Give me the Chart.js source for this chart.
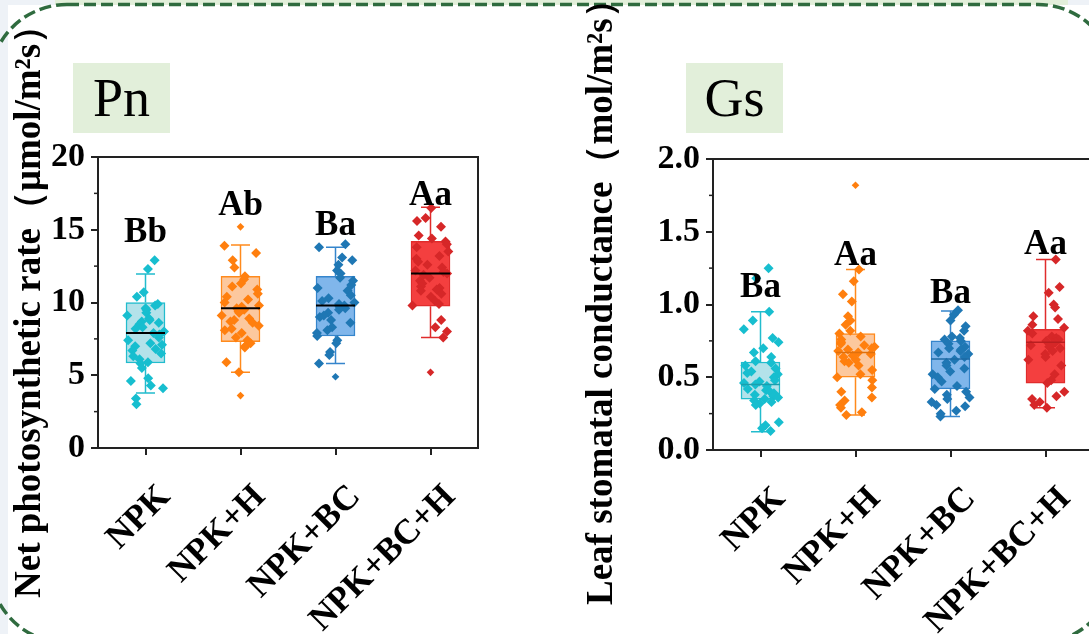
<!DOCTYPE html>
<html lang="en">
<head>
<meta charset="utf-8">
<title>Pn and Gs</title>
<script src="https://cdn.jsdelivr.net/npm/chart.js@4.4.1/dist/chart.umd.min.js"></script>
<style>
  html, body { margin: 0; padding: 0; }
  body { position: relative; width: 1089px; height: 634px; overflow: hidden; background: #eef2f7; }
  #band { position: absolute; left: 55px; top: 0; width: 1013px; height: 8px; background: #e2efda; }
  #card { position: absolute; left: 8px; top: 5px; width: 1081px; height: 629px; background: #fff; }
  #frame { position: absolute; left: 0; top: 0; }
  canvas { position: absolute; top: 0; }
  #pnChart { left: 0; }
  #gsChart { left: 545px; }
  .tag { position: absolute; top: 63px; width: 97px; height: 70px; background: #e2efda;
         font: 54px "Liberation Serif", "Times New Roman", serif; line-height: 70px;
         text-align: center; color: #000; }
</style>
</head>
<body>
<div id="band"></div>
<div id="card"></div>
<svg id="frame" width="1089" height="634">
  <rect x="-10" y="4.5" width="1125" height="638.5" rx="77" ry="77" fill="none"
        stroke="#2f6b3f" stroke-width="3.5" stroke-dasharray="12 5"/>
</svg>
<canvas id="pnChart" width="545" height="634"></canvas>
<canvas id="gsChart" width="600" height="634"></canvas>
<div class="tag" style="left:73px">Pn</div>
<div class="tag" style="left:686px">Gs</div>

<script>
const categories = ['NPK', 'NPK+H', 'NPK+BC', 'NPK+BC+H'];

// Pn (net photosynthetic rate), one array per treatment
const pnNPK = [12.9, 12.3, 10.7, 10.4, 9.9, 9.8, 9.6, 9.5, 9.3, 9.1, 8.9, 8.8, 8.7, 8.6, 8.5, 8.3, 8.2, 8.0, 7.9, 7.8,
               7.6, 7.4, 7.2, 7.1, 7.0, 6.8, 6.7, 6.5, 6.3, 6.1, 5.9, 5.8, 5.5, 4.8, 4.6, 4.3, 4.1, 3.4, 3.0];
const pnH   = [13.9, 13.4, 12.9, 12.4, 11.8, 11.6, 11.3, 11.1, 10.9, 10.6, 10.4, 10.2, 10.0, 9.8, 9.7, 9.6, 9.5, 9.4,
               9.3, 9.1, 8.9, 8.8, 8.7, 8.6, 8.4, 8.2, 8.1, 7.9, 7.6, 7.4, 7.2, 7.0, 6.9, 5.9, 5.2];
const pnBC  = [14.0, 13.8, 13.1, 12.9, 12.6, 12.2, 12.0, 11.7, 11.5, 11.2, 11.0, 10.8, 10.5, 10.3, 10.1, 10.0, 9.9,
               9.8, 9.7, 9.6, 9.5, 9.3, 9.1, 9.0, 8.8, 8.6, 8.3, 8.1, 7.9, 7.7, 7.4, 7.2, 6.6, 6.4, 5.8];
const pnBCH = [16.5, 15.8, 15.6, 15.2, 14.6, 14.4, 14.2, 14.0, 13.8, 13.5, 13.2, 13.0, 12.8, 12.6, 12.4, 12.2, 12.1,
               12.0, 11.9, 11.7, 11.5, 11.3, 11.1, 11.0, 10.9, 10.8, 10.6, 10.4, 10.1, 9.9, 9.8, 8.8, 8.3, 8.0, 7.6];
const pnOutliers = [[], [15.2, 3.6], [4.9], [5.2]];
const pnQ1 = [5.84, 7.3, 7.7, 9.75];
const pnMedian = [7.9, 9.6, 9.8, 12.0];
const pnQ3 = [10.0, 11.8, 11.8, 14.2];
const pnLow = [3.78, 5.2, 5.8, 7.6];
const pnHigh = [11.96, 13.95, 13.8, 16.55];
const pnLetters = ['Bb', 'Ab', 'Ba', 'Aa'];
const pnLetterY = [14.16, 16.0, 14.64, 16.7];
const pnTicks = [0, 5, 10, 15, 20];

// Gs (leaf stomatal conductance)
const gsNPK = [1.25, 1.18, 0.95, 0.89, 0.83, 0.77, 0.74, 0.70, 0.67, 0.64, 0.61, 0.60, 0.58, 0.56, 0.54, 0.53, 0.52,
               0.50, 0.48, 0.47, 0.46, 0.45, 0.44, 0.42, 0.41, 0.40, 0.39, 0.38, 0.37, 0.36, 0.35, 0.34, 0.33, 0.32,
               0.31, 0.19, 0.17, 0.15, 0.13];
const gsH   = [1.24, 1.16, 1.07, 1.02, 0.92, 0.89, 0.86, 0.82, 0.80, 0.78, 0.76, 0.74, 0.73, 0.72, 0.71, 0.70, 0.69,
               0.68, 0.67, 0.66, 0.65, 0.64, 0.62, 0.61, 0.60, 0.58, 0.55, 0.52, 0.50, 0.48, 0.43, 0.40, 0.36, 0.34,
               0.31, 0.29, 0.26, 0.24];
const gsBC  = [0.96, 0.93, 0.89, 0.85, 0.82, 0.78, 0.77, 0.76, 0.75, 0.73, 0.71, 0.70, 0.69, 0.68, 0.67, 0.66, 0.64,
               0.62, 0.60, 0.58, 0.56, 0.54, 0.52, 0.50, 0.47, 0.44, 0.42, 0.40, 0.38, 0.36, 0.35, 0.33, 0.31, 0.30,
               0.27, 0.25, 0.23];
const gsBCH = [1.31, 1.12, 1.08, 1.00, 0.98, 0.92, 0.90, 0.86, 0.84, 0.82, 0.80, 0.78, 0.77, 0.76, 0.75, 0.74, 0.73,
               0.72, 0.71, 0.70, 0.68, 0.66, 0.64, 0.62, 0.58, 0.52, 0.48, 0.46, 0.40, 0.37, 0.35, 0.33, 0.31, 0.29];
const gsOutliers = [[], [1.82], [], []];
const gsQ1 = [0.35, 0.50, 0.42, 0.46];
const gsMedian = [0.45, 0.67, 0.625, 0.74];
const gsQ3 = [0.605, 0.80, 0.75, 0.83];
const gsLow = [0.125, 0.24, 0.23, 0.29];
const gsHigh = [0.95, 1.24, 0.955, 1.31];
const gsLetters = ['Ba', 'Aa', 'Ba', 'Aa'];
const gsLetterY = [1.05, 1.27, 1.01, 1.35];
const gsTicks = [0, 0.5, 1.0, 1.5, 2.0];

const pointColors = ['#17becf', '#ff7f0e', '#1f77b4', '#d62728'];
const boxFills = ['#b3e2ea', '#fcc89e', '#80b6eb', '#f43f3f'];
const boxLines = ['#22bccd', '#ff8a1c', '#3585cc', '#e02c2c'];
const medianDark = ['#1a9fae', '#e0700c', '#1d6aa5', '#b81f20'];

const serif = '"Liberation Serif", "Times New Roman", serif';

// horizontal scatter of the points inside a category (position only)
function jitter(k) {
    const s = Math.sin(k * 12.9898 + 78.233) * 43758.5453;
    return (s - Math.floor(s) - 0.5) * 0.4;
}

function extrasPlugin(p) {
    return {
        id: 'boxExtras',
        beforeDatasetsDraw: function(chart) {
            const ctx = chart.ctx, xs = chart.scales.x, ys = chart.scales.y;
            ctx.save();
            ctx.lineWidth = 1.5;
            categories.forEach(function(c, i) {
                const x = xs.getPixelForValue(i);
                const yHi = ys.getPixelForValue(p.high[i]);
                const yLo = ys.getPixelForValue(p.low[i]);
                ctx.strokeStyle = boxLines[i];
                ctx.beginPath();
                ctx.moveTo(x, ys.getPixelForValue(p.q3[i])); ctx.lineTo(x, yHi);
                ctx.moveTo(x, ys.getPixelForValue(p.q1[i])); ctx.lineTo(x, yLo);
                ctx.moveTo(x - 9.5, yHi); ctx.lineTo(x + 9.5, yHi);
                ctx.moveTo(x - 9.5, yLo); ctx.lineTo(x + 9.5, yLo);
                ctx.stroke();
            });
            ctx.restore();
        },
        afterDatasetsDraw: function(chart) {
            const ctx = chart.ctx, xs = chart.scales.x, ys = chart.scales.y;
            const area = chart.chartArea;
            ctx.save();

            // medians
            categories.forEach(function(c, i) {
                const x = xs.getPixelForValue(i);
                const y = ys.getPixelForValue(p.median[i]);
                ctx.strokeStyle = p.blackMedian ? '#000' : medianDark[i];
                ctx.lineWidth = p.blackMedian ? 2 : 1.5;
                ctx.beginPath();
                ctx.moveTo(x - 19.5, y); ctx.lineTo(x + 19.5, y);
                ctx.stroke();
            });

            // closing frame
            ctx.strokeStyle = '#222';
            ctx.lineWidth = 2;
            ctx.beginPath();
            ctx.moveTo(area.left, area.top);
            ctx.lineTo(area.right, area.top);
            ctx.lineTo(area.right, area.bottom);
            ctx.stroke();

            // minor ticks
            ctx.lineWidth = 1.5;
            for (let k = 0; k < p.ticks.length - 1; k++) {
                const y = ys.getPixelForValue((p.ticks[k] + p.ticks[k + 1]) / 2);
                ctx.beginPath();
                ctx.moveTo(area.left - 4, y); ctx.lineTo(area.left, y);
                ctx.stroke();
            }

            // significance letters
            ctx.fillStyle = '#000';
            ctx.font = 'bold 35px ' + serif;
            ctx.textAlign = 'center';
            ctx.textBaseline = 'alphabetic';
            p.letters.forEach(function(t, i) {
                ctx.fillText(t, xs.getPixelForValue(i), ys.getPixelForValue(p.letterY[i]));
            });

            // rotated category labels
            ctx.font = 'bold 35px ' + serif;
            ctx.textAlign = 'right';
            categories.forEach(function(c, i) {
                ctx.save();
                ctx.translate(xs.getPixelForValue(i) + 26, area.bottom + 50);
                ctx.rotate(-Math.PI / 4);
                ctx.fillText(c, 0, 0);
                ctx.restore();
            });

            // axis title
            ctx.font = 'bold 37px ' + serif;
            ctx.textAlign = 'left';
            ctx.textBaseline = 'middle';
            ctx.translate(p.titleX, p.titleBottom);
            ctx.rotate(-Math.PI / 2);
            ctx.fillText(p.title, 0, 0);
            ctx.restore();
        }
    };
}

function buildPanel(canvasId, p) {
    const datasets = [{
        type: 'bar',
        data: categories.map(function(c, i) { return {x: i, y: [p.q1[i], p.q3[i]]}; }),
        backgroundColor: boxFills,
        borderColor: boxLines,
        borderWidth: 1.5,
        borderSkipped: false,
        barThickness: 39,
        order: 3
    }];
    p.groups.forEach(function(vals, i) {
        datasets.push({
            type: 'scatter',
            data: vals.map(function(v, k) { return {x: i + jitter(k + i * 53 + p.seed), y: v}; }),
            pointStyle: 'rectRot',
            pointRadius: 5,
            pointBackgroundColor: pointColors[i],
            pointBorderWidth: 0,
            order: 1
        });
        datasets.push({
            type: 'scatter',
            data: p.outliers[i].map(function(v) { return {x: i, y: v}; }),
            pointStyle: 'rectRot',
            pointRadius: 3.8,
            pointBackgroundColor: pointColors[i],
            pointBorderWidth: 0,
            order: 1
        });
    });

    const ctx = document.getElementById(canvasId).getContext('2d');
    return new Chart(ctx, {
        type: 'bar',
        data: { datasets: datasets },
        options: {
            responsive: false,
            animation: false,
            events: [],
            layout: { padding: { left: 0, top: p.top, right: p.padRight, bottom: 0 } },
            plugins: { legend: { display: false }, tooltip: { enabled: false } },
            scales: {
                x: {
                    type: 'linear',
                    min: -0.5,
                    max: 3.5,
                    offset: false,
                    afterBuildTicks: function(scale) {
                        scale.ticks = categories.map(function(c, i) { return {value: i}; });
                    },
                    afterFit: function(scale) { scale.height = p.xHeight; },
                    ticks: { display: false },
                    grid: { offset: false, drawOnChartArea: false, tickLength: 7, color: '#222', lineWidth: 2 },
                    border: { color: '#222', width: 2 }
                },
                y: {
                    type: 'linear',
                    min: p.ticks[0],
                    max: p.ticks[p.ticks.length - 1],
                    afterBuildTicks: function(scale) {
                        scale.ticks = p.ticks.map(function(v) { return {value: v}; });
                    },
                    afterFit: function(scale) { scale.width = p.yWidth; },
                    ticks: {
                        padding: 6,
                        color: '#000',
                        font: { family: serif, size: 34, weight: 'bold' },
                        callback: function(value) { return p.fmt(value); }
                    },
                    grid: { drawOnChartArea: false, tickLength: 7, color: '#222', lineWidth: 2 },
                    border: { color: '#222', width: 2 }
                }
            }
        },
        plugins: [extrasPlugin(p)]
    });
}

document.addEventListener('DOMContentLoaded', function() {

    buildPanel('pnChart', {
        groups: [pnNPK, pnH, pnBC, pnBCH],
        outliers: pnOutliers,
        q1: pnQ1, median: pnMedian, q3: pnQ3, low: pnLow, high: pnHigh,
        letters: pnLetters, letterY: pnLetterY, ticks: pnTicks,
        fmt: function(v) { return String(v); },
        blackMedian: true,
        title: 'Net photosynthetic rate（μmol/m²s）',
        titleX: 30, titleBottom: 598, seed: 1,
        top: 157, padRight: 67, yWidth: 98, xHeight: 186
    });

    buildPanel('gsChart', {
        groups: [gsNPK, gsH, gsBC, gsBCH],
        outliers: gsOutliers,
        q1: gsQ1, median: gsMedian, q3: gsQ3, low: gsLow, high: gsHigh,
        letters: gsLetters, letterY: gsLetterY, ticks: gsTicks,
        fmt: function(v) { return v.toFixed(1); },
        blackMedian: false,
        title: 'Leaf stomatal conductance（mol/m²s）',
        titleX: 57, titleBottom: 605, seed: 400,
        top: 159, padRight: 52, yWidth: 168, xHeight: 184
    });

});
</script>
</body>
</html>
